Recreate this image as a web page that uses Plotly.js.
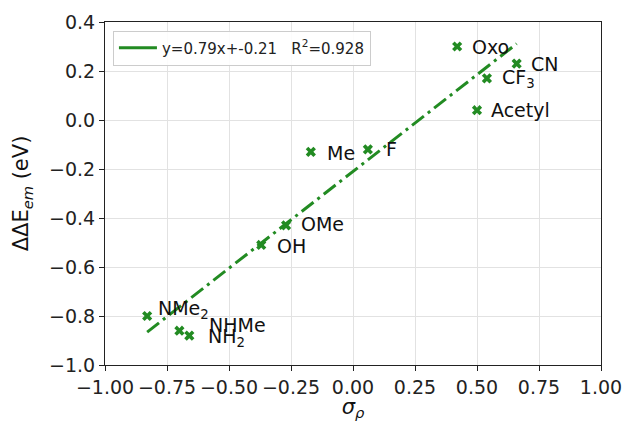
<!DOCTYPE html>
<html>
<head>
<meta charset="utf-8">
<script src="https://cdn.plot.ly/plotly-3.0.1.min.js"></script>
<style>html,body{margin:0;padding:0;background:#fff;}#chart{width:623px;height:421px;}</style>
</head>
<body>
<div id="chart"></div>
<script>
// ---- data ----
const substituents = ["NMe<sub>2</sub>", "NHMe", "NH<sub>2</sub>", "OH", "OMe", "Me", "F", "Oxo", "CN", "CF<sub>3</sub>", "Acetyl"];
const sigmaP = [-0.83, -0.70, -0.66, -0.37, -0.27, -0.17, 0.06, 0.42, 0.66, 0.54, 0.50];
const ddEem = [-0.80, -0.86, -0.88, -0.51, -0.43, -0.13, -0.12, 0.30, 0.23, 0.17, 0.04];
const fitSlope = 0.79;
const fitIntercept = -0.21;
const fitLabel = "y=0.79x+-0.21\u00a0\u00a0\u00a0R<sup>2</sup>=0.928";
const xTickVals = [-1.0, -0.75, -0.5, -0.25, 0.0, 0.25, 0.5, 0.75, 1.0];
const yTickVals = [-1.0, -0.8, -0.6, -0.4, -0.2, 0.0, 0.2, 0.4];

// ---- styling (label offsets in px) ----
const labelShiftX = [9, 28, 17, 14, 13, 14, 16, 13, 12, 13, 12];
const labelShiftY = [7, 6, -2, -1, 1, -1, 0, 0, 0, 0, 0];
const green = "#228B22";
const FONT = "DejaVu Sans, sans-serif";

const xmin = Math.min(...sigmaP), xmax = Math.max(...sigmaP);
const fitX = [xmin, xmax];
const fitY = fitX.map(v => fitSlope * v + fitIntercept);

const traces = [
  {
    x: fitX, y: fitY, type: "scatter", mode: "lines",
    line: {color: green, width: 3, dash: "15px,5px,3px,5px"},
    showlegend: false
  },
  {
    // legend-only entry (matplotlib draws a short solid sample)
    x: [null], y: [null], type: "scatter", mode: "lines",
    line: {color: green, width: 3},
    name: fitLabel, showlegend: true
  },
  {
    x: sigmaP, y: ddEem, type: "scatter", mode: "markers",
    marker: {symbol: "x", size: 9, color: green, line: {width: 0}},
    showlegend: false
  }
];

const annotations = substituents.map((s, i) => ({
  x: sigmaP[i], y: ddEem[i], xref: "x", yref: "y",
  text: s, showarrow: false, xanchor: "left", yanchor: "middle",
  xshift: labelShiftX[i], yshift: labelShiftY[i],
  font: {family: FONT, size: 19, color: "#111"}
}));

const axisCommon = {
  showline: true, mirror: true, linecolor: "#222", linewidth: 1,
  ticks: "outside", ticklen: 5, tickwidth: 1, tickcolor: "#222",
  showgrid: true, gridcolor: "#e2e2e2", gridwidth: 1,
  zeroline: false,
  tickfont: {family: FONT, size: 19, color: "#222"}
};

const layout = {
  width: 623, height: 421,
  margin: {l: 105, r: 22, t: 22, b: 56},
  paper_bgcolor: "#fff", plot_bgcolor: "#fff",
  font: {family: FONT},
  xaxis: Object.assign({}, axisCommon, {
    range: [-1, 1], tickvals: xTickVals, tickformat: ".2f",
    title: {text: "<i>σ</i><sub><i>ρ</i></sub>", font: {family: FONT, size: 21, color: "#111"}, standoff: 6}
  }),
  yaxis: Object.assign({}, axisCommon, {
    range: [-1, 0.4], tickvals: yTickVals, tickformat: ".1f",
    title: {text: "ΔΔE<sub><i>em</i></sub> (eV)", font: {family: FONT, size: 21, color: "#111"}, standoff: 14}
  }),
  legend: {
    x: 0.016, y: 0.975, xanchor: "left", yanchor: "top",
    bgcolor: "rgba(255,255,255,0.9)", bordercolor: "#cccccc", borderwidth: 1,
    itemwidth: 38,
    font: {family: FONT, size: 15, color: "#222"}
  },
  annotations: annotations,
  showlegend: true
};

Plotly.newPlot("chart", traces, layout, {staticPlot: true, displayModeBar: false});
</script>
</body>
</html>
